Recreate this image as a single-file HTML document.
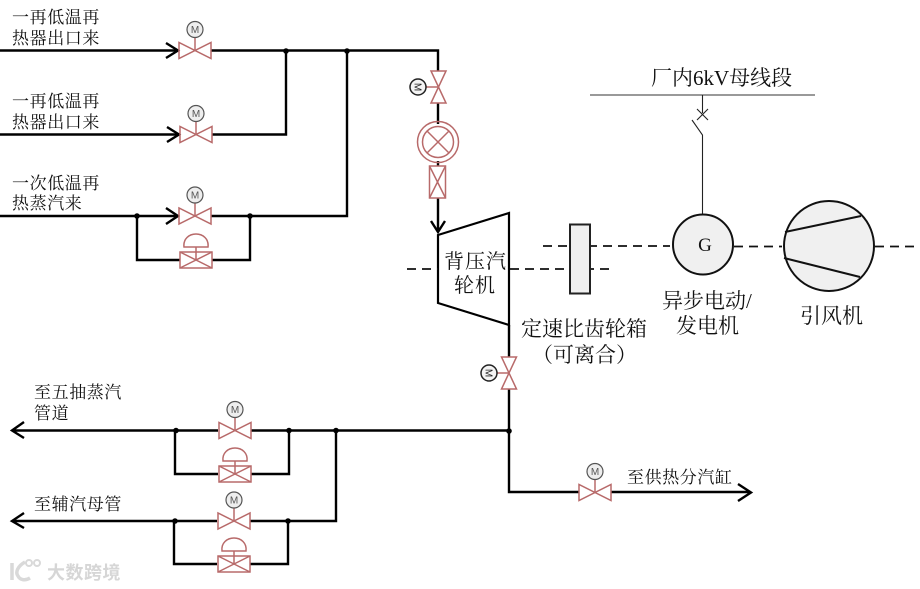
<!DOCTYPE html>
<html><head><meta charset="utf-8"><style>
html,body{margin:0;padding:0;background:#fff}
svg{display:block}
text{font-family:"Liberation Serif","Noto Serif CJK SC",serif;font-size:17px;fill:#111}
.p{fill:none;stroke:#000;stroke-width:2.4}
.v{fill:none;stroke:#b86a6a;stroke-width:1.5}
.m{font-family:"Liberation Sans",sans-serif;font-size:10px;fill:#555}
</style></head><body>
<svg width="920" height="589" viewBox="0 0 920 589" xmlns="http://www.w3.org/2000/svg">
<defs>
<g id="gv"><path class="v" d="M-16,-8V8L16,-8V8Z"/><path class="v" d="M0,0V-14"/><circle cx="0" cy="-21" r="8" fill="#eee" stroke="#555" stroke-width="1.2"/><text class="m" x="0" y="-17.5" text-anchor="middle">M</text></g>
<g id="bv"><rect class="v" x="-16" y="-8" width="32" height="16" style="fill:#fff"/><path class="v" d="M-16,-8L16,8M-16,8L16,-8M0,0V-13M-12,-13H12C13,-21 7,-26 0,-26C-7,-26 -13,-21 -12,-13Z"/></g>
</defs>
<rect width="920" height="589" fill="#fff"/>

<!-- main pipes -->
<path class="p" d="M0,50.5H178M211,50.5H438V71M286,50.5V134.5H212M180,134.5H0M0,216H178M211,216H347V50.5"/>
<path class="p" d="M137,216V260H180M212,260H250V216"/>
<path class="p" d="M166,43L178,50.5L166,58M167,127L179,134.5L167,142M166,208L178,216L166,224"/>
<circle cx="286" cy="51" r="2.8"/><circle cx="347" cy="51" r="2.8"/><circle cx="137" cy="216" r="2.8"/><circle cx="250" cy="216" r="2.8"/>
<use href="#gv" x="195" y="50.5"/><use href="#gv" x="196" y="134.5"/><use href="#gv" x="195" y="216"/>
<use href="#bv" x="196" y="260"/>

<!-- turbine inlet -->
<path class="p" d="M438,103V124M438,161V166M438,198V232M431,221L438,232L445,221"/>
<path class="v" d="M431,71H446L431,103H446ZM438,87H426"/>
<circle cx="418" cy="87" r="8" fill="#f4f4f4" stroke="#222" stroke-width="1.5"/>
<text class="m" x="418" y="87" text-anchor="middle" transform="rotate(90 418 87) translate(0 3.5)" style="fill:#222">M</text>
<circle class="v" cx="438" cy="142" r="20.5"/><circle class="v" cx="438" cy="142" r="15.5"/>
<path class="v" d="M427,131L449,153M427,153L449,131"/>
<rect class="v" x="429.500" y="166" width="16" height="32"/><path class="v" d="M429.500,166L445.500,198M429.500,198L445.500,166"/>

<!-- turbine -->
<path d="M438,235L509,213V325L438,303Z" fill="#fff" stroke="#000" stroke-width="2.2"/>
<path d="M407,269H438M510,269H612" fill="none" stroke="#111" stroke-width="1.8" stroke-dasharray="9 6"/>
<path d="M543,246H670" fill="none" stroke="#111" stroke-width="1.8" stroke-dasharray="9 6"/>
<rect x="570" y="224.500" width="20" height="69" fill="#f0f0f0" stroke="#222" stroke-width="2"/>
<path d="M734,246.500H782M875,246.500H918" fill="none" stroke="#111" stroke-width="1.8" stroke-dasharray="9 6"/>

<!-- electrical -->
<path d="M590,95H815" stroke="#333" stroke-width="1.1" fill="none"/>
<path d="M702.500,95V113M697,109L708,120M708,109L697,120M692,120L702.500,135V214" stroke="#222" stroke-width="1.1" fill="none"/>
<circle cx="703" cy="244.500" r="30" fill="#f0f0f0" stroke="#111" stroke-width="2"/>
<text x="705" y="251" text-anchor="middle" style="font-size:19px">G</text>
<circle cx="829" cy="246" r="45" fill="#f0f0f0" stroke="#111" stroke-width="2"/>
<path d="M785,232L861,216M784,258L860,277" stroke="#111" stroke-width="2" fill="none"/>

<!-- lower pipes -->
<path class="p" d="M509,325V357M509,389V492H579M611,492H750M738,484L751,492.500L738,501"/>
<path class="p" d="M509,430.500H251M218,430.500H12M24,422L12,430.500L24,438M175,430.500V474H218M251,474H289V430.500"/>
<path class="p" d="M336,430.500V521H250M217,521H12M24,513L12,521L24,528M174,521V564H217M250,564H288V521"/>
<circle cx="509" cy="431" r="2.800"/><circle cx="336" cy="430.500" r="2.800"/><circle cx="176" cy="430.500" r="2.800"/><circle cx="289" cy="430.500" r="2.800"/>
<circle cx="175" cy="521" r="2.800"/><circle cx="288" cy="521" r="2.800"/>
<use href="#gv" x="235" y="430.500"/><use href="#bv" x="235" y="474"/>
<use href="#gv" x="234" y="521"/><use href="#bv" x="234" y="564"/>
<use href="#gv" x="595" y="492.500"/>
<path class="v" d="M501.500,357H516.500L501.500,389H516.500ZM509,373H497"/>
<circle cx="489" cy="373" r="8" fill="#f4f4f4" stroke="#222" stroke-width="1.500"/>
<text class="m" x="489" y="373" text-anchor="middle" transform="rotate(90 489 373) translate(0 3.5)" style="fill:#222">M</text>

<!-- labels -->
<g style="letter-spacing:.6px">
<text x="12" y="23">一再低温再</text><text x="12" y="44">热器出口来</text>
<text x="12" y="107">一再低温再</text><text x="12" y="128">热器出口来</text>
<text x="12" y="189">一次低温再</text><text x="12" y="209">热蒸汽来</text>
<text x="34" y="398">至五抽蒸汽</text><text x="34" y="419">管道</text>
<text x="34" y="510">至辅汽母管</text>
<text x="627" y="483">至供热分汽缸</text>
</g>
<text x="444" y="268" style="font-size:20px;letter-spacing:1px">背压汽</text>
<text x="454" y="292" style="font-size:20px;letter-spacing:1px">轮机</text>
<text x="651" y="85" style="font-size:21px">厂内6kV母线段</text>
<text x="521" y="336" style="font-size:21px">定速比齿轮箱</text>
<text x="532" y="362" style="font-size:21px">（可离合）</text>
<text x="662" y="308" style="font-size:21px">异步电动/</text>
<text x="676" y="333" style="font-size:21px">发电机</text>
<text x="800" y="323" style="font-size:21px">引风机</text>

<!-- watermark -->
<g fill="none" stroke="#d9d9d9" stroke-width="3.5">
<path d="M12,563V580M25,562C18,566 15,572 18,576C20,580 25,581 30,578"/>
<circle cx="29" cy="563" r="3" stroke-width="2"/><circle cx="37" cy="563" r="3" stroke-width="2"/>
</g>
<text x="47" y="579" style="font-family:'Liberation Sans','Noto Sans CJK SC',sans-serif;font-size:18px;font-weight:700;fill:#d6d6d6;letter-spacing:.5px">大数跨境</text>
</svg>
</body></html>
